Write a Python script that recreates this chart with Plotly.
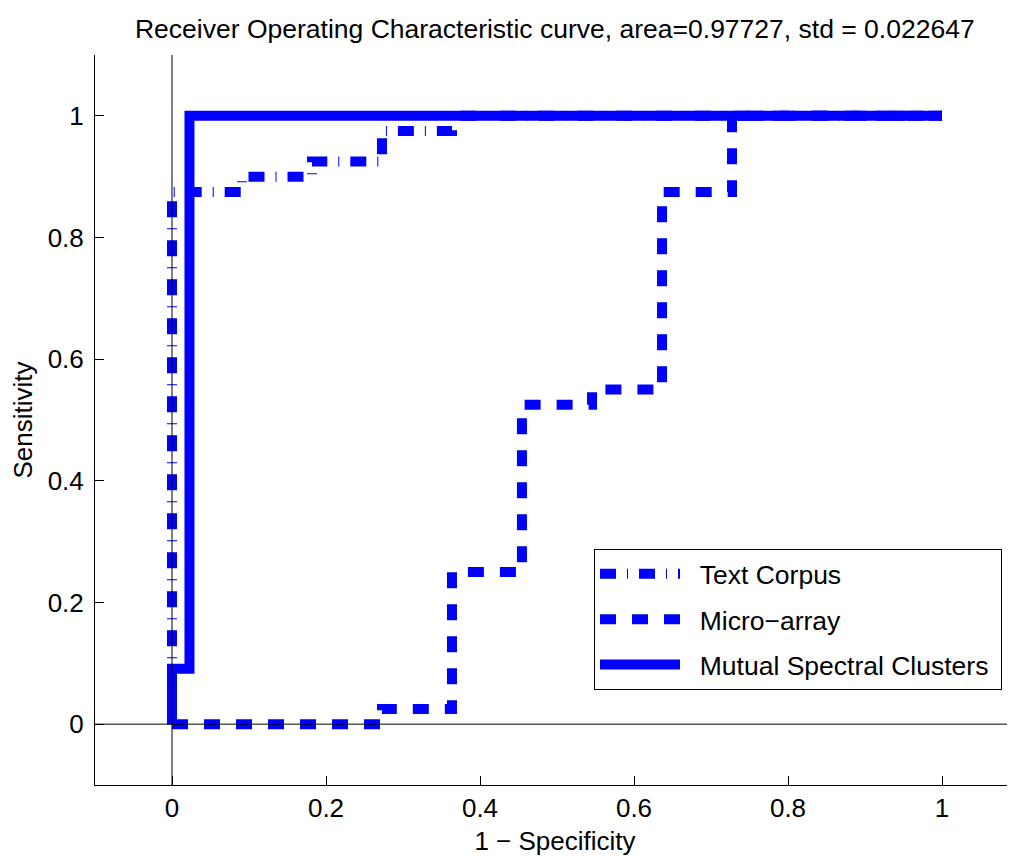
import plotly.graph_objects as go

# Data
text_corpus_x = [0, 0, 0.0909, 0.0909, 0.1818, 0.1818, 0.2727, 0.2727, 0.3636, 0.3636, 1.0]
text_corpus_y = [0, 0.875, 0.875, 0.9, 0.9, 0.925, 0.925, 0.975, 0.975, 1.0, 1.0]

micro_x = [0, 0.2727, 0.2727, 0.3636, 0.3636, 0.4545, 0.4545, 0.5455, 0.5455, 0.6364, 0.6364, 0.7273, 0.7273, 1.0]
micro_y = [0, 0, 0.025, 0.025, 0.25, 0.25, 0.525, 0.525, 0.55, 0.55, 0.875, 0.875, 1.0, 1.0]

msc_x = [0, 0, 0.0227, 0.0227, 1.0]
msc_y = [0, 0.0909, 0.0909, 1.0, 1.0]

tick_vals = [0, 0.2, 0.4, 0.6, 0.8, 1]
tick_text = ["0", "0.2", "0.4", "0.6", "0.8", "1"]

title_text = "Receiver Operating Characteristic curve, area=0.97727, std = 0.022647"

FONT = "Liberation Sans, Arial, sans-serif"
BLUE = "#0000FF"
FS = 26
NB = "\u00a0\u00a0"

fig = go.Figure()
fig.add_trace(go.Scatter(x=text_corpus_x, y=text_corpus_y, mode="lines", name=NB + "Text Corpus",
                         legendgroup="a",
                         line=dict(color=BLUE, width=10, dash="16px,11px,1px,11px")))
fig.add_trace(go.Scatter(x=micro_x, y=micro_y, mode="lines", name=NB + "Micro\u2212array",
                         legendgroup="b",
                         line=dict(color=BLUE, width=10, dash="16px,16px")))
fig.add_trace(go.Scatter(x=msc_x, y=msc_y, mode="lines", name=NB + "Mutual Spectral Clusters\u00a0",
                         legendgroup="c",
                         line=dict(color=BLUE, width=10)))

x_range = [-0.1, 1.0948]
y_range = [-0.1, 1.1]

# zero reference lines drawn above traces
fig.add_shape(type="line", x0=0, x1=0, y0=y_range[0], y1=y_range[1], xref="x", yref="y",
              line=dict(color="black", width=1), layer="above")
fig.add_shape(type="line", x0=x_range[0], x1=x_range[1], y0=0, y1=0, xref="x", yref="y",
              line=dict(color="black", width=1), layer="above")

fig.update_layout(
    width=1007, height=848,
    margin=dict(l=87, r=0, t=47, b=71),
    paper_bgcolor="white", plot_bgcolor="white",
    font=dict(family=FONT, size=FS, color="black"),
    title=dict(text=title_text, x=0.543, xanchor="center", y=0.976, yanchor="middle",
               font=dict(size=26.5, family=FONT, color="black")),
    legend=dict(x=0.5424, y=0.3233, xanchor="left", yanchor="top",
                bgcolor="white", bordercolor="black", borderwidth=1,
                font=dict(size=26.5, family=FONT, color="black"),
                itemwidth=80, tracegroupgap=8),
    xaxis=dict(range=x_range, tickvals=tick_vals, ticktext=tick_text,
               showgrid=False, zeroline=False, showline=True, linecolor="black", linewidth=1,
               ticks="inside", ticklen=9, tickcolor="black",
               title=dict(text="1 \u2212 Specificity", standoff=10, font=dict(size=FS))),
    yaxis=dict(range=y_range, tickvals=tick_vals, ticktext=tick_text,
               showgrid=False, zeroline=False, showline=True, linecolor="black", linewidth=1,
               ticks="inside", ticklen=9, tickcolor="black", ticklabelstandoff=5,
               title=dict(text="Sensitivity", standoff=10, font=dict(size=FS))),
)

fig.write_html("out.html")
